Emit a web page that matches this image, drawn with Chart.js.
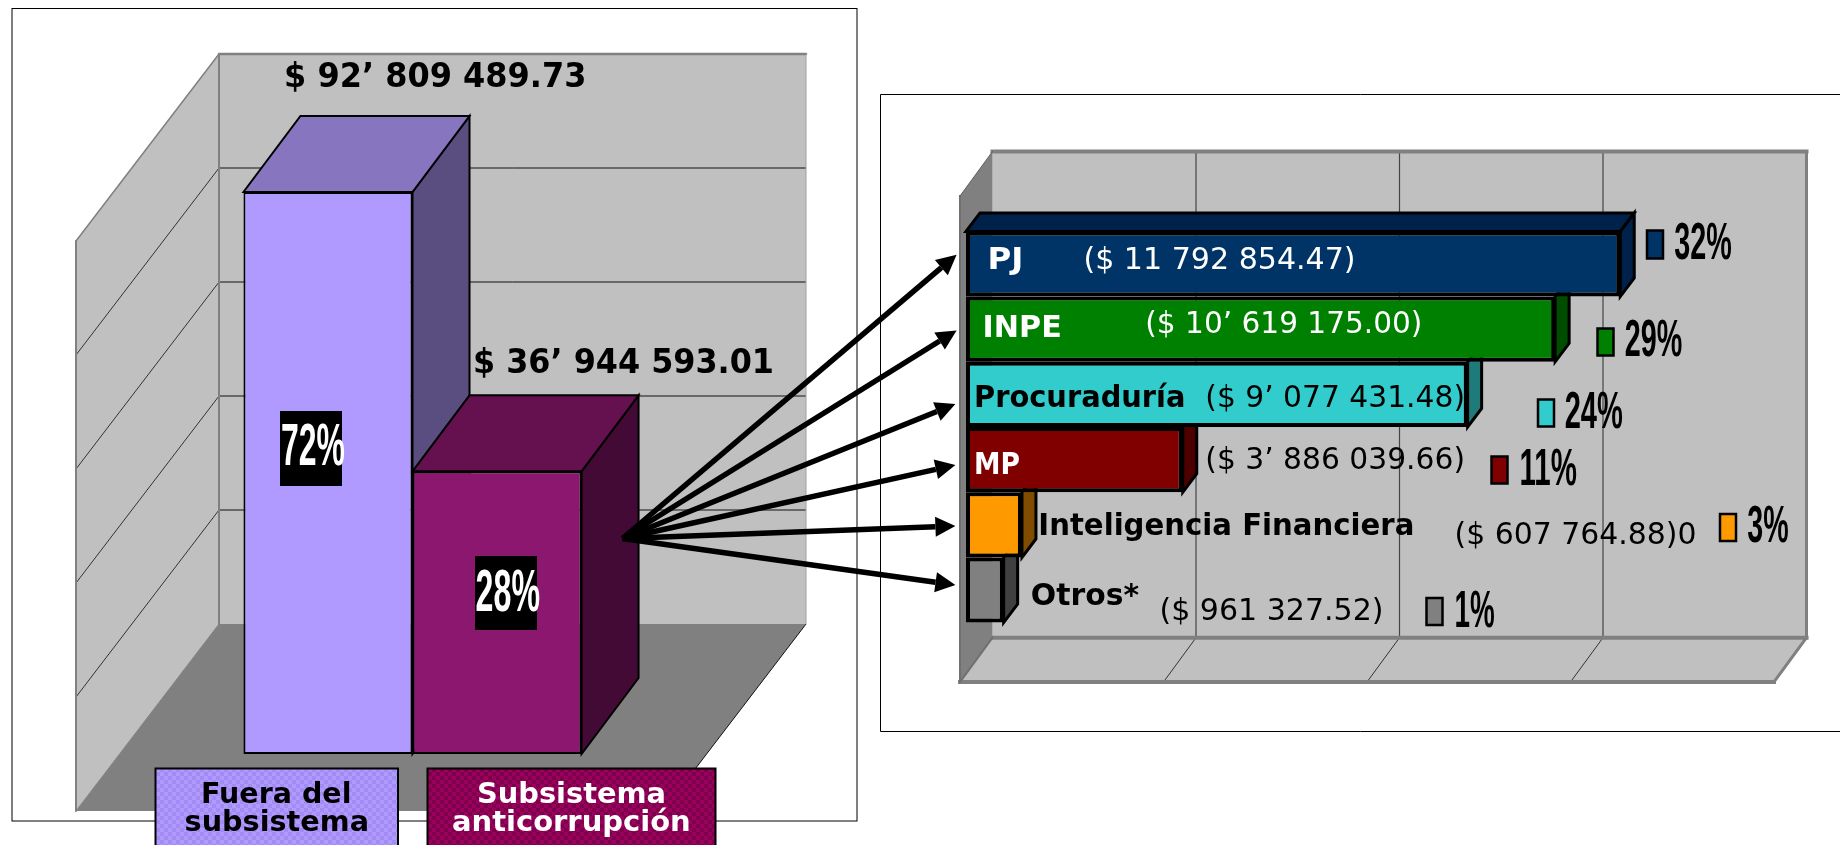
<!DOCTYPE html>
<html lang="es">
<head>
<meta charset="utf-8">
<title>Subsistema anticorrupción</title>
<script src="https://cdn.jsdelivr.net/npm/chart.js@4"></script>
<style>
html,body{margin:0;padding:0;background:#fff;overflow:hidden;width:1840px;height:845px}
canvas{position:absolute;left:0;top:0}
</style>
</head>
<body>
<canvas id="columns" width="1840" height="845"></canvas>
<canvas id="branches" width="1840" height="845"></canvas>
<script>
// ---- values ----
const columnCategory = ['Presupuesto'];
const columnSeries = ['Fuera del subsistema', 'Subsistema anticorrupción'];
const columnHeights = [98.6, 49.6];
const columnAmounts = ['$ 92’ 809 489.73', '$ 36’ 944 593.01'];
const columnShares = ['72%', '28%'];
const columnLegendLines = [['Fuera del', 'subsistema'], ['Subsistema', 'anticorrupción']];

const branchCategory = ['Subsistema anticorrupción'];
const branchNames = ['PJ', 'INPE', 'Procuraduría', 'MP', 'Inteligencia Financiera', 'Otros*'];
const branchValues = [32.15, 28.95, 24.65, 10.65, 2.75, 1.85];
const branchAmounts = ['($ 11 792 854.47)', '($ 10’ 619 175.00)', '($ 9’ 077 431.48)', '($ 3’ 886 039.66)', '($ 607 764.88)0', '($ 961 327.52)'];
const branchShares = ['32%', '29%', '24%', '11%', '3%', '1%'];

// ---- styling and placement ----
const columnFront = ['#B099FF', '#8B186E'];
const columnTop = ['#8775BF', '#65104F'];
const columnSide = ['#5A4D80', '#420A35'];
const branchFront = ['#003366', '#008000', '#33CCCC', '#800000', '#FF9900', '#808080'];
const branchSide = ['#00214A', '#004D00', '#1F7A7A', '#4D0000', '#7F4C00', '#404040'];
const branchNameColor = ['#fff', '#fff', '#000', '#fff', '#000', '#000'];
const branchAmountColor = ['#fff', '#fff', '#000', '#000', '#000', '#000'];

const NARROW = '"Liberation Sans Narrow","Liberation Sans",sans-serif';
const SANS = '"DejaVu Sans",Verdana,sans-serif';

function fitText(ctx, str, left, right, baseline, font, color) {
  ctx.save();
  ctx.font = font;
  ctx.fillStyle = color;
  ctx.textAlign = 'left';
  ctx.textBaseline = 'alphabetic';
  const w = ctx.measureText(str).width;
  ctx.translate(left, baseline);
  ctx.scale((right - left) / w, 1);
  ctx.fillText(str, 0, 0);
  ctx.restore();
}
function poly(ctx, pts, fill, stroke, lw) {
  ctx.beginPath();
  pts.forEach((p, i) => i ? ctx.lineTo(p[0], p[1]) : ctx.moveTo(p[0], p[1]));
  ctx.closePath();
  if (fill) { ctx.fillStyle = fill; ctx.fill(); }
  if (stroke) { ctx.strokeStyle = stroke; ctx.lineWidth = lw; ctx.lineJoin = 'miter'; ctx.stroke(); }
}
function line(ctx, x1, y1, x2, y2, color, lw) {
  ctx.beginPath(); ctx.moveTo(x1, y1); ctx.lineTo(x2, y2);
  ctx.strokeStyle = color; ctx.lineWidth = lw; ctx.stroke();
}
function checker(ctx, a, b) {
  const c = document.createElement('canvas');
  c.width = c.height = 8;
  const g = c.getContext('2d');
  g.fillStyle = a; g.fillRect(0, 0, 8, 8);
  g.fillStyle = b; g.fillRect(0, 0, 4, 4); g.fillRect(4, 4, 4, 4);
  return ctx.createPattern(c, 'repeat');
}

// ---- left chart: 3D walls, bar depth, labels ----
const colBack = { dx: 100, dy: -130 }, colFrontEdge = { dx: -43, dy: 57 }, colDepth = { dx: 57, dy: -76 };
const colAmountPos = [[284, 586.5, 87], [473, 774, 373.4]];
const colShareBox = [[280, 411, 62, 75], [475, 556, 62, 74]];
const colShareText = [[281, 345, 465], [475.6, 540, 610.5]];
const colLegendBox = [[155.5, 768.5, 242.5, 78], [427.5, 768.5, 288, 78]];
const colLegendText = [[[201, 351.4, 803], [184.6, 369, 830.7]], [[477, 666, 802.7], [452, 690.7, 830.7]]];
const colLegendColors = [['#B099FF', '#A28BF2', '#000'], ['#99005F', '#7E0048', '#fff']];

const columnDecor = {
  id: 'columnDecor',
  beforeDatasetsDraw(chart) {
    const { ctx, chartArea: a, scales: { y } } = chart;
    ctx.save();
    ctx.fillStyle = '#fff'; ctx.fillRect(0, 0, 870, 845);
    ctx.strokeStyle = '#000'; ctx.lineWidth = 1; ctx.strokeRect(12, 8.5, 845, 812.5);
    const b0 = y.getPixelForValue(0), b1 = y.getPixelForValue(100);
    const bl = a.left + colBack.dx, br = a.right + colBack.dx;
    const fl = a.left + colFrontEdge.dx, fr = a.right + colFrontEdge.dx;
    const by0 = b0 + colBack.dy, by1 = b1 + colBack.dy;
    const fy0 = b0 + colFrontEdge.dy, fy1 = b1 + colFrontEdge.dy;
    poly(ctx, [[bl, by1], [br, by1], [br, by0], [bl, by0]], '#C0C0C0');
    poly(ctx, [[fl, fy1], [bl, by1], [bl, by0], [fl, fy0]], '#C0C0C0');
    poly(ctx, [[fl, fy0], [bl, by0], [br, by0], [fr, fy0]], '#808080');
    y.ticks.forEach(t => {
      if (t.value <= 0 || t.value >= 100) return;
      const p = y.getPixelForValue(t.value);
      line(ctx, bl, p + colBack.dy, br, p + colBack.dy, '#111', 1);
      line(ctx, bl, p + colBack.dy, fl, p + colFrontEdge.dy, '#333', 1);
    });
    line(ctx, br, by0, fr, fy0, '#111', 1);
    // gray frame edges of the walls
    ctx.lineCap = 'round';
    line(ctx, fl, fy1, bl, by1, '#808080', 1.5);
    line(ctx, bl, by1, br, by1, '#808080', 2.5);
    line(ctx, bl, by1, bl, by0, '#808080', 2);
    line(ctx, fl, fy1, fl, fy0, '#808080', 2);
    line(ctx, br, by1, br, by0, '#A0A0A0', 1);
    line(ctx, fl, fy0, bl, by0, '#808080', 1);
    ctx.lineCap = 'butt';
    // depth faces of the bars, back to front
    columnHeights.forEach((_, i) => {
      const e = chart.getDatasetMeta(i).data[0];
      const l = e.x - e.width / 2, r = e.x + e.width / 2, t = e.y, bt = e.base;
      poly(ctx, [[r, t], [r + colDepth.dx, t + colDepth.dy], [r + colDepth.dx, bt + colDepth.dy], [r, bt]], columnSide[i], '#000', 2);
      poly(ctx, [[l, t], [l + colDepth.dx, t + colDepth.dy], [r + colDepth.dx, t + colDepth.dy], [r, t]], columnTop[i], '#000', 2);
    });
    ctx.restore();
  },
  afterDatasetsDraw(chart) {
    const { ctx } = chart;
    columnAmounts.forEach((s, i) => {
      const p = colAmountPos[i];
      fitText(ctx, s, p[0], p[1], p[2], 'bold 33px ' + SANS, '#000');
    });
    columnShares.forEach((s, i) => {
      const b = colShareBox[i], p = colShareText[i];
      ctx.fillStyle = '#000'; ctx.fillRect(b[0], b[1], b[2], b[3]);
      fitText(ctx, s, p[0], p[1], p[2], 'bold 59px ' + NARROW, '#fff');
    });
    columnLegendLines.forEach((lines, i) => {
      const b = colLegendBox[i], c = colLegendColors[i];
      ctx.fillStyle = checker(ctx, c[0], c[1]);
      ctx.fillRect(b[0], b[1], b[2], b[3]);
      ctx.strokeStyle = '#000'; ctx.lineWidth = 2;
      ctx.strokeRect(b[0], b[1], b[2], b[3]);
      lines.forEach((s, j) => {
        const p = colLegendText[i][j];
        fitText(ctx, s, p[0], p[1], p[2], 'bold 28px ' + SANS, c[2]);
      });
    });
  }
};

new Chart(document.getElementById('columns'), {
  type: 'bar',
  data: {
    labels: columnCategory,
    datasets: columnSeries.map((name, i) => ({
      label: name,
      data: [columnHeights[i]],
      backgroundColor: columnFront[i],
      borderColor: '#000',
      borderWidth: 2,
      borderSkipped: false,
      inflateAmount: 0,
      categoryPercentage: 0.576,
      barPercentage: 1
    }))
  },
  options: {
    responsive: false, animation: false, devicePixelRatio: 1,
    layout: { padding: { left: 119, right: 1134, top: 184, bottom: 91 } },
    plugins: { legend: { display: false }, title: { display: false }, tooltip: { enabled: false } },
    scales: {
      x: { display: false },
      y: { display: false, min: 0, max: 100, ticks: { stepSize: 20 } }
    }
  },
  plugins: [columnDecor]
});

// ---- right chart: 3D walls, bar depth, labels, arrows ----
const barBack = { dx: 26.5 }, barDepth = { dx: 14, dy: -18.5 };
const wall = { top: 151.5, bottom: 637.7, frontTop: 196, frontBottom: 682, depth: 32.5 };
const branchNamePos = [[987.5, 1023.4, 268.5], [982.6, 1061.8, 337], [974, 1185.5, 407.4], [974, 1020, 473.5], [1038.3, 1414.4, 534.5], [1030.8, 1139, 604.8]];
const branchAmountPos = [[1083.4, 1355.6, 269.4], [1145.3, 1422.4, 332.5], [1205.3, 1465, 407.4], [1205.3, 1465, 469.3], [1454.6, 1696.5, 543.8], [1159.5, 1383.5, 619.6]];
const branchKeyBox = [[1647, 230.5, 16, 28], [1597.5, 328.5, 16, 27], [1538, 399.5, 16, 27], [1491.5, 456.5, 16, 27], [1720, 514, 16, 27], [1426.5, 598, 16, 27]];
const branchSharePos = [[1674.2, 1731.7, 259], [1624.7, 1682.2, 356], [1564.7, 1622.9, 427.5], [1519.6, 1577, 484.7], [1747.2, 1788.6, 542.4], [1454.6, 1494.8, 626.5]];
const arrowOrigin = [622.5, 538.5];
const arrowTips = [[956.6, 254.7], [956.6, 330.4], [955.4, 404], [955.4, 465], [955.4, 526], [955.4, 585]];

function arrow(ctx, from, to) {
  const ang = Math.atan2(to[1] - from[1], to[0] - from[0]);
  const len = 20, half = 10;
  const bx = to[0] - Math.cos(ang) * len, by = to[1] - Math.sin(ang) * len;
  line(ctx, from[0], from[1], bx, by, '#000', 5.5);
  const nx = -Math.sin(ang), ny = Math.cos(ang);
  poly(ctx, [to, [bx + nx * half, by + ny * half], [bx - nx * half, by - ny * half]], '#000');
}

const branchDecor = {
  id: 'branchDecor',
  beforeDatasetsDraw(chart) {
    const { ctx, chartArea: a, scales: { x } } = chart;
    ctx.save();
    ctx.strokeStyle = '#000'; ctx.lineWidth = 1;
    ctx.beginPath();
    ctx.moveTo(1841, 94.5); ctx.lineTo(880.5, 94.5); ctx.lineTo(880.5, 731.5); ctx.lineTo(1841, 731.5);
    ctx.stroke();
    const bl = a.left + barBack.dx, br = a.right + barBack.dx;
    const fl = bl - wall.depth, fr = br - wall.depth;
    poly(ctx, [[bl, wall.top], [br, wall.top], [br, wall.bottom], [bl, wall.bottom]], '#C0C0C0');
    poly(ctx, [[fl, wall.frontBottom], [bl, wall.bottom], [br, wall.bottom], [fr, wall.frontBottom]], '#C0C0C0');
    poly(ctx, [[fl, wall.frontTop], [bl, wall.top], [bl, wall.bottom], [fl, wall.frontBottom]], '#808080');
    x.ticks.forEach(t => {
      if (t.value <= 0 || t.value >= 40) return;
      const p = x.getPixelForValue(t.value) + barBack.dx;
      line(ctx, p, wall.top, p, wall.bottom, '#444', 1.2);
      line(ctx, p, wall.bottom, p - wall.depth, wall.frontBottom, '#333', 1);
    });
    ctx.lineCap = 'square';
    line(ctx, bl, wall.top, br, wall.top, '#808080', 4);
    line(ctx, br, wall.top, br, wall.bottom, '#808080', 3);
    line(ctx, bl, wall.bottom, br, wall.bottom, '#808080', 4);
    line(ctx, br, wall.bottom, fr, wall.frontBottom, '#808080', 3);
    line(ctx, fl, wall.frontBottom, fr, wall.frontBottom, '#808080', 4);
    line(ctx, fl, wall.frontTop, fl, wall.frontBottom, '#707070', 2);
    line(ctx, fl, wall.frontBottom, bl, wall.bottom, '#707070', 2);
    line(ctx, fl, wall.frontTop, bl, wall.top, '#606060', 1);
    ctx.lineCap = 'butt';
    branchValues.forEach((_, i) => {
      const e = chart.getDatasetMeta(i).data[0];
      const top = e.y - e.height / 2, bot = e.y + e.height / 2, r = e.x, l = e.base;
      poly(ctx, [[r, top], [r + barDepth.dx, top + barDepth.dy], [r + barDepth.dx, bot + barDepth.dy], [r, bot]], branchSide[i], '#000', 3);
      if (i === 0) {
        poly(ctx, [[l, top], [l + barDepth.dx, top + barDepth.dy], [r + barDepth.dx, top + barDepth.dy], [r, top]], branchSide[i], '#000', 3);
      }
    });
    ctx.restore();
  },
  afterDatasetsDraw(chart) {
    const { ctx } = chart;
    branchNames.forEach((s, i) => {
      const p = branchNamePos[i];
      fitText(ctx, s, p[0], p[1], p[2], 'bold 30px ' + SANS, branchNameColor[i]);
    });
    branchAmounts.forEach((s, i) => {
      const p = branchAmountPos[i];
      fitText(ctx, s, p[0], p[1], p[2], '30px ' + SANS, branchAmountColor[i]);
    });
    branchShares.forEach((s, i) => {
      const b = branchKeyBox[i], p = branchSharePos[i];
      ctx.fillStyle = branchFront[i]; ctx.fillRect(b[0], b[1], b[2], b[3]);
      ctx.strokeStyle = '#000'; ctx.lineWidth = 2.5; ctx.strokeRect(b[0], b[1], b[2], b[3]);
      fitText(ctx, s, p[0], p[1], p[2], 'bold 52px ' + NARROW, '#000');
    });
    ctx.save();
    ctx.lineCap = 'butt';
    arrowTips.forEach(t => arrow(ctx, arrowOrigin, t));
    ctx.restore();
  }
};

new Chart(document.getElementById('branches'), {
  type: 'bar',
  data: {
    labels: branchCategory,
    datasets: branchNames.map((name, i) => ({
      label: name,
      data: [branchValues[i]],
      backgroundColor: branchFront[i],
      borderColor: '#000',
      borderWidth: 4,
      borderSkipped: false,
      inflateAmount: 0,
      categoryPercentage: 0.805,
      barPercentage: 1
    }))
  },
  options: {
    indexAxis: 'y',
    responsive: false, animation: false, devicePixelRatio: 1,
    layout: { padding: { left: 966, right: 60, top: 184, bottom: 175 } },
    plugins: { legend: { display: false }, title: { display: false }, tooltip: { enabled: false } },
    scales: {
      x: { display: false, min: 0, max: 40, ticks: { stepSize: 10 } },
      y: { display: false }
    }
  },
  plugins: [branchDecor]
});
</script>
</body>
</html>
